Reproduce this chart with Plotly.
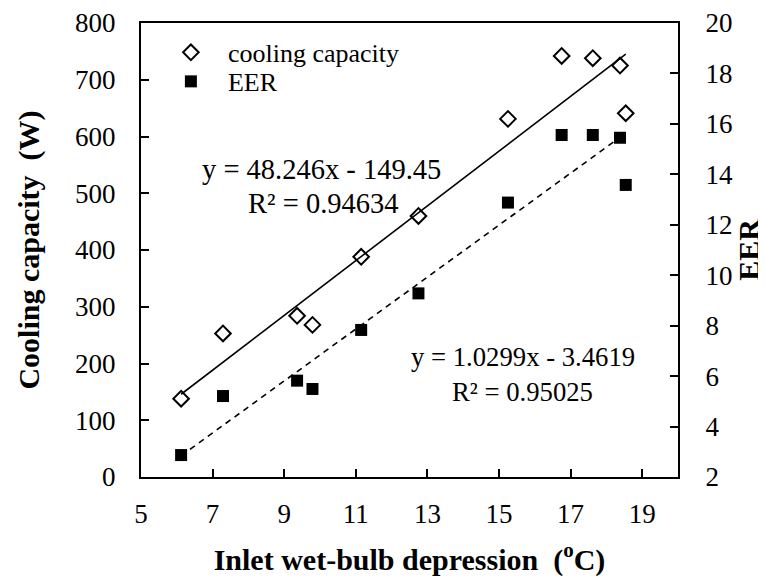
import numpy as np
import plotly.graph_objects as go

# inlet wet-bulb depression (oC)
depression = [6.12, 7.29, 9.36, 9.79, 11.15, 12.75, 15.25, 16.75, 17.62, 18.38, 18.54]
cooling_capacity = [138, 253, 284, 268, 388, 460, 631, 742, 738, 725, 641]
eer = [2.87, 5.21, 5.82, 5.49, 7.83, 9.28, 12.88, 15.56, 15.56, 15.45, 13.58]

# Excel trendline coefficients (slope, intercept, R2)
cap_fit = (48.246, -149.45, 0.94634)
eer_fit = (1.0299, -3.4619, 0.95025)

FONT = "Times New Roman, Liberation Serif, serif"

x_fit = np.array([min(depression), max(depression)])

fig = go.Figure()
fig.add_trace(go.Scatter(x=depression, y=cooling_capacity, mode="markers", name="cooling capacity",
                         legend="legend",
                         marker=dict(symbol="diamond-open", size=12, color="black", line=dict(width=2))))
fig.add_trace(go.Scatter(x=depression, y=eer, mode="markers", name="EER", yaxis="y2",
                         legend="legend2",
                         marker=dict(symbol="square", size=12, color="black")))
fig.add_trace(go.Scatter(x=x_fit, y=cap_fit[0] * x_fit + cap_fit[1], mode="lines", showlegend=False,
                         line=dict(color="black", width=1.6)))
fig.add_trace(go.Scatter(x=x_fit, y=eer_fit[0] * x_fit + eer_fit[1], mode="lines", showlegend=False,
                         yaxis="y2", line=dict(color="black", width=1.6, dash="6px,5px")))

# trendline labels, one annotation per line
fig.add_annotation(x=10.04, y=541, text="y = %.3fx - %.2f" % (cap_fit[0], -cap_fit[1]),
                   font=dict(size=28.5))
fig.add_annotation(x=10.10, y=482, text="R² = %.5f" % cap_fit[2], font=dict(size=28.5))
fig.add_annotation(x=15.68, y=211, text="y = %.4fx - %.4f" % (eer_fit[0], -eer_fit[1]),
                   font=dict(size=26.7))
fig.add_annotation(x=15.67, y=150, text="R² = %.5f" % eer_fit[2], font=dict(size=26.7))
fig.update_annotations(xref="x", yref="y", showarrow=False)

axis_style = dict(showline=True, linecolor="black", linewidth=2, ticks="inside", ticklen=8,
                  tickwidth=2, tickcolor="black", showgrid=False, zeroline=False, automargin=False,
                  tickfont=dict(family=FONT, size=27, color="black"))
title_font = dict(family=FONT, size=30, color="black")

# the page body adds an 8px offset, so the figure is a bit smaller than the window
fig.update_layout(
    width=758, height=569,
    margin=dict(l=133, r=88, t=15, b=100),
    paper_bgcolor="white", plot_bgcolor="white",
    font=dict(family=FONT, size=26, color="black"),
    xaxis=dict(range=[5, 20], tickvals=[5, 7, 9, 11, 13, 15, 17, 19], mirror=True,
               ticklabelstandoff=12,
               title=dict(text="<b>Inlet wet-bulb depression \u00a0(<sup>o</sup>C)</b>", standoff=25,
                          font=title_font),
               **axis_style),
    yaxis=dict(range=[0, 800], dtick=100, mirror=True, ticklabelstandoff=18,
               title=dict(text="<b>Cooling capacity \u00a0(W)</b>", standoff=27, font=title_font),
               **axis_style),
    yaxis2=dict(range=[2, 20], dtick=2, overlaying="y", side="right", ticklabelstandoff=20,
                title=dict(text="<b>EER</b>", standoff=3, font=title_font),
                **axis_style),
    legend=dict(x=0.024, y=0.987, xanchor="left", yanchor="top", bgcolor="rgba(0,0,0,0)",
                font=dict(family=FONT, size=26), itemwidth=64),
    legend2=dict(x=0.024, y=0.923, xanchor="left", yanchor="top", bgcolor="rgba(0,0,0,0)",
                 font=dict(family=FONT, size=26), itemwidth=64),
    showlegend=True,
)

fig.write_html("out.html")
